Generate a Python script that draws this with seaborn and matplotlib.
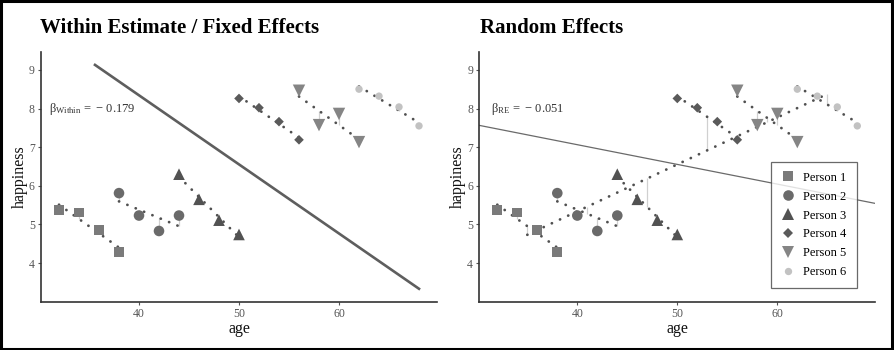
import numpy as np
import pandas as pd
import matplotlib
matplotlib.use("Agg")
import matplotlib.pyplot as plt
from matplotlib.patches import Rectangle
from matplotlib.lines import Line2D
import seaborn as sns

# ---------------- data ----------------
persons = ["Person 1", "Person 2", "Person 3", "Person 4", "Person 5", "Person 6"]
age_p1 = [32, 34, 36, 38]
age_p2 = [38, 40, 42, 44]
age_p3 = [44, 46, 48, 50]
age_p4 = [50, 52, 54, 56]
age_p5 = [56, 58, 60, 62]
age_p6 = [62, 64, 66, 68]
hap_p1 = [5.37, 5.31, 4.85, 4.29]
hap_p2 = [5.81, 5.23, 4.83, 5.23]
hap_p3 = [6.30, 5.65, 5.11, 4.74]
hap_p4 = [8.26, 8.02, 7.66, 7.19]
hap_p5 = [8.46, 7.57, 7.86, 7.13]
hap_p6 = [8.50, 8.32, 8.04, 7.55]
beta_re = -0.051
x_ticks = [40, 50, 60]
y_ticks = [4, 5, 6, 7, 8, 9]

ages_all = [age_p1, age_p2, age_p3, age_p4, age_p5, age_p6]
haps_all = [hap_p1, hap_p2, hap_p3, hap_p4, hap_p5, hap_p6]
df = pd.DataFrame({
    "person": np.repeat(persons, 4),
    "age": np.concatenate(ages_all).astype(float),
    "happiness": np.concatenate(haps_all),
})

# person-centred quantities
df["xm"] = df.groupby("person")["age"].transform("mean")
df["ym"] = df.groupby("person")["happiness"].transform("mean")
df["dx"] = df["age"] - df["xm"]
df["dy"] = df["happiness"] - df["ym"]
# pooled within (fixed effects) estimate
beta_w = float((df["dx"] * df["dy"]).sum() / (df["dx"] ** 2).sum())
# individual OLS line for each person
df["b_i"] = (df["dx"] * df["dy"]).groupby(df["person"]).transform("sum") / \
    (df["dx"] ** 2).groupby(df["person"]).transform("sum")
df["fit"] = df["ym"] + df["b_i"] * df["dx"]

gx, gy = df["age"].mean(), df["happiness"].mean()

# between line through person means
means = df.groupby("person")[["age", "happiness"]].mean().reset_index()
bdx = means["age"] - means["age"].mean()
beta_b = float((bdx * (means["happiness"] - means["happiness"].mean())).sum() / (bdx ** 2).sum())
means["bfit"] = gy + beta_b * (means["age"] - gx)

# ---------------- styles ----------------
markers = {"Person 1": "s", "Person 2": "o", "Person 3": "^",
           "Person 4": "D", "Person 5": "v", "Person 6": "o"}
palette = {"Person 1": "#7a7a7a", "Person 2": "#6a6a6a", "Person 3": "#525252",
           "Person 4": "#5a5a5a", "Person 5": "#858585", "Person 6": "#c2c2c2"}
sizes = {"Person 1": 48, "Person 2": 58, "Person 3": 70,
         "Person 4": 24, "Person 5": 80, "Person 6": 28}

plt.rcParams["font.family"] = ["Liberation Serif", "DejaVu Serif"]
plt.rcParams["mathtext.fontset"] = "custom"
plt.rcParams["mathtext.rm"] = "Liberation Serif"
plt.rcParams["mathtext.it"] = "Liberation Serif:italic"

fig = plt.figure(figsize=(8.94, 3.5), dpi=100)
W, H = 894, 350
axL = fig.add_axes([41 / W, 1 - 301.7 / H, 396 / W, 250 / H])
axR = fig.add_axes([479.3 / W, 1 - 301.7 / H, 396 / W, 250 / H])

dot_style = dict(color="#505050", linewidth=2.0, linestyle=(0, (0.05, 3.2)),
                 dash_capstyle="round", solid_capstyle="round")

for ax in (axL, axR):
    # residuals to individual lines
    ax.vlines(df["age"], df["happiness"], df["fit"], color="#d0d0d0", lw=0.9, zorder=1)
    # individual lines
    sns.lineplot(data=df, x="age", y="fit", units="person", estimator=None,
                 ax=ax, legend=False, zorder=2, **dot_style)
    sns.scatterplot(data=df, x="age", y="happiness", hue="person", style="person",
                    size="person", markers=markers, palette=palette, sizes=sizes,
                    linewidth=0, alpha=1, ax=ax, legend=False, zorder=3)

# left: fixed-effects line
fe_x = np.array([35.6, 68.0])
axL.plot(fe_x, gy + beta_w * (fe_x - gx), color="#5e5e5e", lw=1.9, zorder=2)

# right: between line and random-effects line
bx = np.array([means["age"].min(), means["age"].max()])
axR.vlines(means["age"], means["bfit"], means["happiness"], color="#d0d0d0", lw=0.9, zorder=1)
axR.plot(bx, gy + beta_b * (bx - gx), **dot_style, zorder=2)
re_x = np.array([30.2, 69.8])
axR.plot(re_x, gy + beta_re * (re_x - gx), color="#6a6a6a", lw=0.9, zorder=2)

for ax in (axL, axR):
    ax.set_xlim(30.2, 69.8)
    ax.set_ylim(3.0, 9.47)
    ax.set_xticks(x_ticks)
    ax.set_yticks(y_ticks)
    ax.set_xlabel("age", fontsize=11.5, labelpad=1, color="#111111")
    ax.set_ylabel("happiness", fontsize=11.5, labelpad=1, color="#111111")
    ax.tick_params(axis="both", labelsize=8.5, colors="#555555", length=2.5, width=0.8, pad=2)
    for s in ("top", "right"):
        ax.spines[s].set_visible(False)
    for s in ("left", "bottom"):
        ax.spines[s].set_color("#333333")
        ax.spines[s].set_linewidth(1.2)
    ax.set_facecolor("white")

axL.text(31.0, 8.0, r"$\mathrm{β}_{\mathrm{Within}}\,=\,-\,%.3f$" % abs(beta_w),
         fontsize=9, va="center", ha="left", color="#333333")
axR.text(31.4, 8.0, r"$\mathrm{β}_{\mathrm{RE}}\,=\,-\,%.3f$" % abs(beta_re),
         fontsize=9, va="center", ha="left", color="#333333")

fig.text(40 / W, 1 - 33 / H, "Within Estimate / Fixed Effects", fontsize=15,
         fontweight="bold", va="baseline", ha="left")
fig.text(480 / W, 1 - 33 / H, "Random Effects", fontsize=15,
         fontweight="bold", va="baseline", ha="left")

# legend
handles = [Line2D([], [], linestyle="none", marker=markers[p], color=palette[p],
                  markersize=np.sqrt(sizes[p]), markeredgewidth=0) for p in persons]
leg = axR.legend(handles, persons, loc="lower left", bbox_to_anchor=(0.736, 0.054),
                 frameon=True, fontsize=9, handletextpad=0.6, labelspacing=0.55,
                 borderpad=0.8, fancybox=False, handlelength=1.2, borderaxespad=0)
leg.get_frame().set_edgecolor("#444444")
leg.get_frame().set_linewidth(0.9)

fig.add_artist(Rectangle((0.0015, 0.004), 0.9965, 0.992, transform=fig.transFigure,
                         fill=False, ec="black", lw=2.2))

fig.savefig("out.png", dpi=100)
